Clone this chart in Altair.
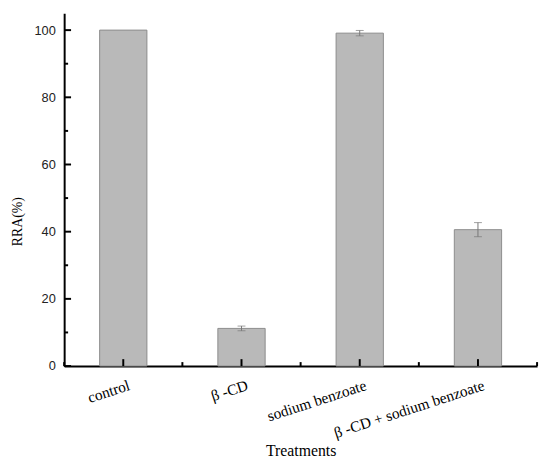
import altair as alt
import pandas as pd

treatments = ["control", "β -CD", "sodium benzoate", "β -CD + sodium benzoate"]
rra = [100.0, 11.2, 99.1, 40.6]
err = [0.0, 0.7, 0.8, 2.1]

major_y = [0, 20, 40, 60, 80, 100]
minor_y = [10, 30, 50, 70, 90]

df = pd.DataFrame({"treatment": treatments, "rra": rra, "err": err})
df["low"] = df["rra"] - df["err"]
df["high"] = df["rra"] + df["err"]

PLOT_W, PLOT_H = 480, 358
MAJOR, MINOR = 7, 4

xscale = alt.Scale(domain=treatments, paddingInner=0, paddingOuter=0)
yscale = alt.Scale(domain=[0, 105], nice=False, zero=True)

serif = "Liberation Serif"
sans = "Liberation Sans"

x_main_axis = alt.Axis(
    title="Treatments", titleFont=serif, titleFontSize=16, titleFontWeight="normal",
    titleColor="black", titleX=240, titleY=91, titleBaseline="alphabetic", titleAlign="center",
    labelFont=serif, labelFontSize=15.5, labelColor="black", labelAngle=342,
    labelAlign="right", labelBaseline="top", labelPadding=12, labelOffset=4,
    ticks=False, tickSize=0, domain=True, domainColor="black", domainWidth=2,
    grid=False, orient="bottom",
)
y_main_axis = alt.Axis(
    title="RRA(%)", titleFont=serif, titleFontSize=14, titleFontWeight="normal",
    titleColor="black", titleX=-47, titleY=211, titleAngle=270, titleAlign="center",
    titleBaseline="middle",
    values=major_y, labelFont=sans, labelFontSize=13, labelColor="#222222",
    labelPadding=9, ticks=False, tickSize=0, domain=True, domainColor="black",
    domainWidth=2, grid=False, orient="left",
)


def X(field, **kw):
    return alt.X(field, scale=xscale, axis=x_main_axis, sort=treatments, title="Treatments", **kw)


def Y(field):
    return alt.Y(field, scale=yscale, axis=y_main_axis, title="RRA(%)")


base = alt.Chart(df)

bars = base.mark_bar(
    width=alt.RelativeBandSize(0.4), fill="#b9b9b9", stroke="#8c8c8c", strokeWidth=1
).encode(x=X("treatment:N"), y=Y("rra:Q"))

err_df = base.transform_filter("datum.err > 0")

rules = err_df.mark_rule(color="#777777", strokeWidth=1).encode(
    x=X("treatment:N"), y=Y("low:Q"), y2="high:Q",
)

caps = err_df.transform_fold(["low", "high"], as_=["end", "val"]).mark_tick(
    color="#777777", size=8, thickness=1
).encode(x=X("treatment:N"), y=Y("val:Q"))

# inward axis ticks
tick_style = dict(color="black", strokeWidth=2)

y_major_ticks = alt.Chart(pd.DataFrame({"v": major_y})).mark_rule(**tick_style).encode(
    y=Y("v:Q"), x=alt.value(0), x2=alt.value(MAJOR),
)
y_minor_ticks = alt.Chart(pd.DataFrame({"v": minor_y})).mark_rule(**tick_style).encode(
    y=Y("v:Q"), x=alt.value(0), x2=alt.value(MINOR),
)
x_major_ticks = alt.Chart(pd.DataFrame({"treatment": treatments})).mark_rule(**tick_style).encode(
    x=X("treatment:N"), y=alt.value(PLOT_H), y2=alt.value(PLOT_H - MAJOR),
)
x_minor_ticks_left = alt.Chart(pd.DataFrame({"treatment": treatments})).mark_rule(**tick_style).encode(
    x=X("treatment:N", bandPosition=0), y=alt.value(PLOT_H), y2=alt.value(PLOT_H - MINOR),
)
x_minor_ticks_end = alt.Chart(pd.DataFrame({"treatment": treatments[-1:]})).mark_rule(**tick_style).encode(
    x=X("treatment:N", bandPosition=1), y=alt.value(PLOT_H), y2=alt.value(PLOT_H - MINOR),
)

chart = alt.layer(
    bars, rules, caps, y_major_ticks, y_minor_ticks,
    x_major_ticks, x_minor_ticks_left, x_minor_ticks_end,
).properties(
    width=PLOT_W, height=PLOT_H,
    autosize=alt.AutoSizeParams(type="none"),
    padding={"left": 57, "top": 2, "right": 5, "bottom": 95},
    background="white",
).configure_view(stroke=None)

chart.save("out.html", embed_options={"renderer": "svg", "actions": False})
